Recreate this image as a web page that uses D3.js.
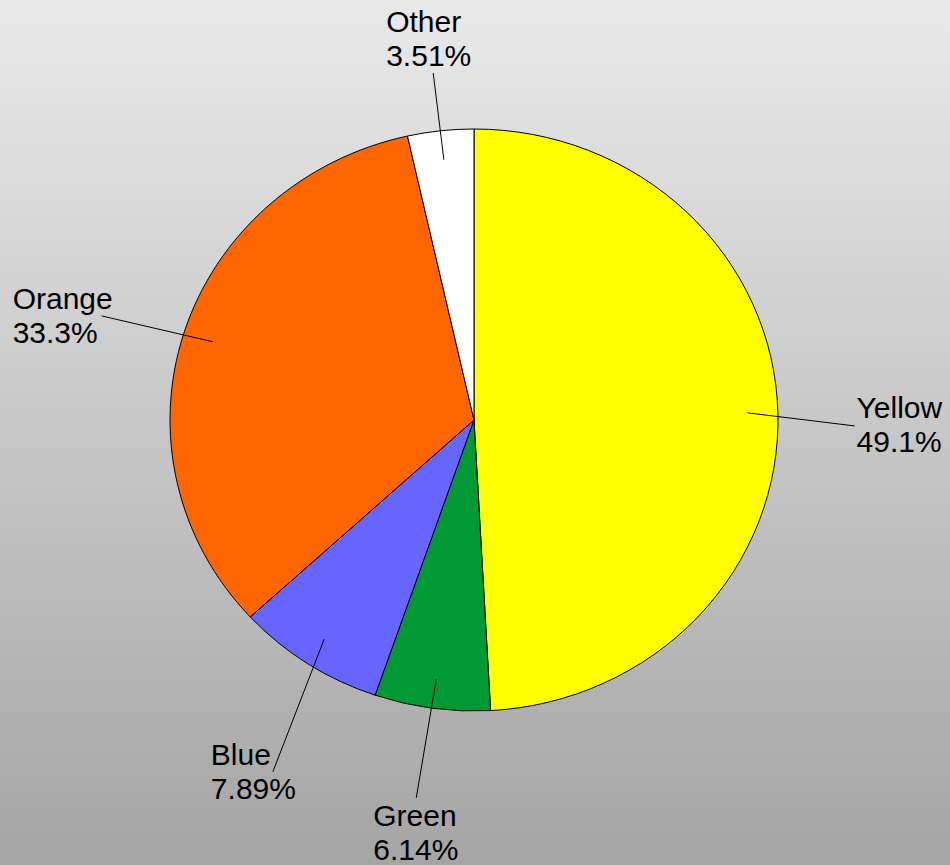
<!DOCTYPE html>
<html>
<head>
<meta charset="utf-8">
<script src="https://cdn.jsdelivr.net/npm/d3@7"></script>
<style>
  html, body { margin: 0; padding: 0; }
  svg { display: block; }
</style>
</head>
<body>
<svg id="chart" width="950" height="865"></svg>
<script>
// ---- data ----
const categories = ["Yellow", "Green", "Blue", "Orange", "Other"];
const values = [49.1, 6.14, 7.89, 33.3, 3.51];
const valueLabels = ["49.1%", "6.14%", "7.89%", "33.3%", "3.51%"];
const colors = ["#ffff00", "#009933", "#6666ff", "#ff6600", "#ffffff"];

// ---- layout (not data) ----
const W = 950, H = 865;
const cx = 474, cy = 420, rx = 304, ry = 291;
const fontSize = 30, lineGap = 34;
// per-slice leader end: angle shift (deg), radius factor; text offset from end
const labelLayout = [
  { shift: 2.5,  k: 1.252, tx: 2,   ty: -8 },
  { shift: 0.4,  k: 1.312, tx: -43, ty: 28 },
  { shift: -4.5, k: 1.378, tx: -62, ty: -7 },
  { shift: -1.1, k: 1.276, tx: -89, ty: -7 },
  { shift: -0.1, k: 1.2,   tx: -47, ty: -41 }
];

const svg = d3.select("#chart");
const defs = svg.append("defs");
const grad = defs.append("linearGradient").attr("id", "bg")
  .attr("x1", 0).attr("y1", 0).attr("x2", 0).attr("y2", 1);
grad.append("stop").attr("offset", "0%").attr("stop-color", "#e9e9e9");
grad.append("stop").attr("offset", "100%").attr("stop-color", "#a5a5a5");
svg.append("rect").attr("width", W).attr("height", H).attr("fill", "url(#bg)");

const data = categories.map((c, i) => ({ name: c, value: values[i], label: valueLabels[i], color: colors[i], idx: i }));
const pie = d3.pie().value(d => d.value).sort(null);
const arcs = pie(data);

const arc = d3.arc().innerRadius(0).outerRadius(ry);

const g = svg.append("g")
  .attr("transform", `translate(${cx},${cy}) scale(${rx / ry},1)`);
g.selectAll("path.slice").data(arcs).join("path")
  .attr("class", "slice")
  .attr("d", arc)
  .attr("fill", d => d.data.color)
  .attr("stroke", "#000")
  .attr("stroke-width", 1)
  .attr("vector-effect", "non-scaling-stroke");

function pt(angle, f) {
  return [cx + Math.sin(angle) * rx * f, cy - Math.cos(angle) * ry * f];
}

const labels = svg.append("g");
arcs.forEach((a, i) => {
  const mid = (a.startAngle + a.endAngle) / 2;
  const L = labelLayout[i];
  const p0 = pt(mid, 0.9);
  const p1 = pt(mid + L.shift * Math.PI / 180, L.k);
  labels.append("line")
    .attr("x1", p0[0]).attr("y1", p0[1])
    .attr("x2", p1[0]).attr("y2", p1[1])
    .attr("stroke", "#000").attr("stroke-width", 1);
  const t = labels.append("text")
    .attr("font-family", "'Liberation Sans', Arial, sans-serif")
    .attr("font-size", fontSize)
    .attr("fill", "#000");
  t.append("tspan").attr("x", p1[0] + L.tx).attr("y", p1[1] + L.ty).text(a.data.name);
  t.append("tspan").attr("x", p1[0] + L.tx).attr("y", p1[1] + L.ty + lineGap).text(a.data.label);
});
</script>
</body>
</html>
